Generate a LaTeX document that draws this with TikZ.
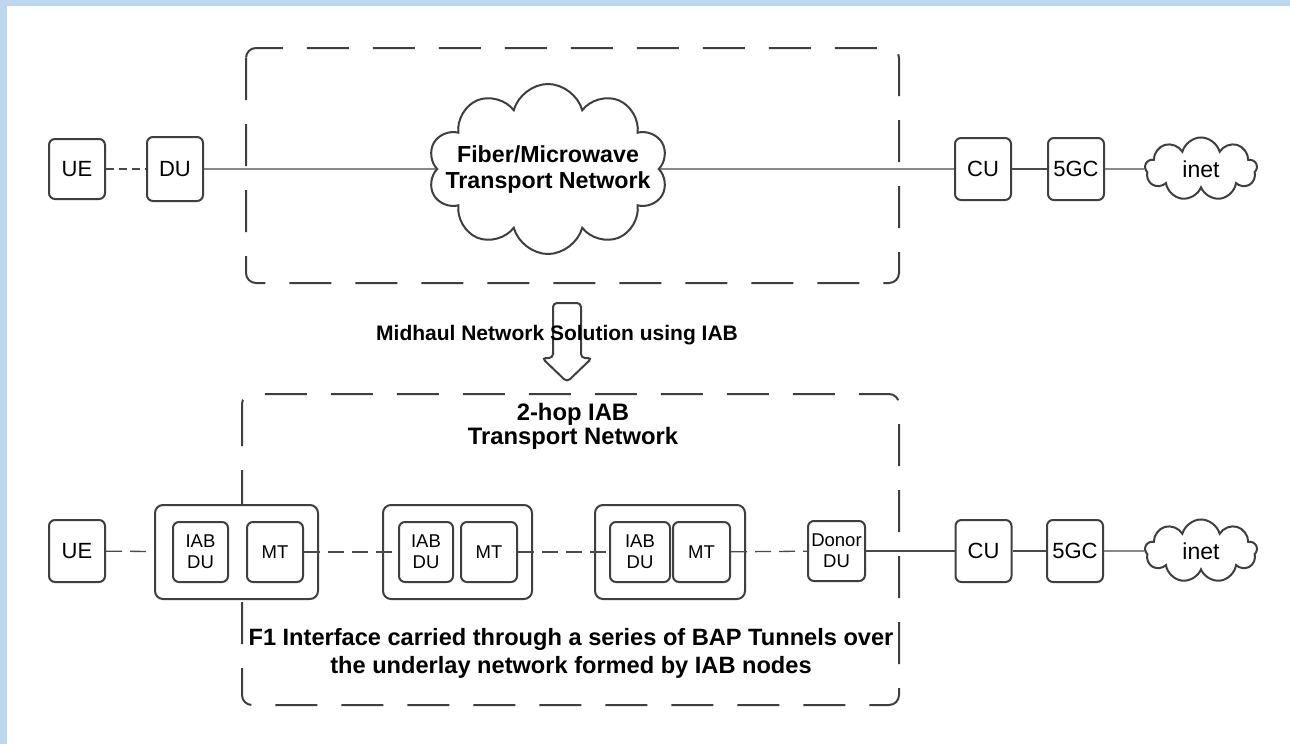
\documentclass[tikz,border=0pt]{standalone}
\usepackage{fontspec}
\setmainfont{Liberation Sans}
\usetikzlibrary{shapes.symbols}
\definecolor{edgegray}{HTML}{3F3F3F}
\definecolor{linkgray}{HTML}{4A4A4A}
\definecolor{frameblue}{HTML}{BDD7EE}

\begin{document}
\begin{tikzpicture}[x=0.5pt,y=-0.5pt,
	box/.style={draw=edgegray, line width=1pt, rounded corners=3pt, fill=white, inner sep=0pt,
		minimum width=28pt, minimum height=30pt, font=\fontsize{11}{13}\selectfont},
	inbox/.style={box, minimum width=28pt, font=\fontsize{9.25}{10.5}\selectfont, align=center},
	iabnode/.style={draw=edgegray, line width=1pt, rounded corners=4pt, fill=white, inner sep=0pt, minimum height=47pt},
	net/.style={cloud, draw=edgegray, line width=1pt, cloud puffs=9, fill=white, inner sep=0pt,
		font=\fontsize{11.5}{13}\selectfont},
	link/.style={draw=linkgray, line width=0.65pt},
	radio/.style={link, dash pattern=on 8pt off 4pt},
	zone/.style={draw=edgegray, line width=1pt, rounded corners=5pt, dash pattern=on 21pt off 12pt},
	title/.style={font=\bfseries\fontsize{10.5}{11}\selectfont, align=center}]
	
	% page and blue frame
	\fill[white] (0,0) rectangle (1290,744);
	\fill[frameblue] (0,0) rectangle (7,744);
	\fill[frameblue] (0,0) rectangle (1290,6);
	\useasboundingbox (0,0) rectangle (1290,744);
	
	% transport network areas
	\draw[zone] (246,48) rectangle (899,283);
	\draw[zone] (242,394) rectangle (899,705);
	
	% fiber / microwave midhaul
	\node[box] (ueA) at (77,169) {UE};
	\node[box, minimum height=32pt] (duA) at (175,169) {DU};
	\node[net, cloud puffs=10, minimum width=120pt, minimum height=85pt,
		label={[title, font=\bfseries\fontsize{11.6}{13}\selectfont]center:Fiber/Microwave\\Transport Network}] (fiber) at (548,169) {};
	\node[box, minimum height=31pt] (cuA) at (983,169) {CU};
	\node[box, minimum height=31pt] (gcA) at (1076,169) {5GC};
	\node[net, minimum width=56pt, minimum height=29pt] (inetA) at (1201,169) {inet};
	
	% solution arrow
	\draw[edgegray, line width=1pt, rounded corners=2pt, fill=white]
		(553,303) -- (581,303) -- (581,358) -- (592,358) -- (567,382) -- (542,358) -- (553,358) -- cycle;
	\node[title] (midhaul) at (557,335) {Midhaul Network Solution using IAB};
	\node[title, font=\bfseries\fontsize{11.9}{11}\selectfont] (hop) at (573,426) {2-hop IAB\\Transport Network};
	
	% IAB midhaul
	\node[box, minimum height=31pt] (ueB) at (77,551) {UE};
	\node[iabnode, minimum width=81.5pt] (iab1) at (236.5,552) {};
	\node[iabnode, minimum width=74.5pt] (iab2) at (457.5,552) {};
	\node[iabnode, minimum width=75pt] (iab3) at (670,552) {};
	\node[inbox, minimum width=27.5pt] (du1) at (200.5,552) {IAB\\DU};
	\node[inbox] (mt1) at (275,552) {MT};
	\node[inbox, minimum width=27pt] (du2) at (426,552) {IAB\\DU};
	\node[inbox] (mt2) at (489,552) {MT};
	\node[inbox, minimum width=30pt] (du3) at (640,552) {IAB\\DU};
	\node[inbox, minimum width=28.5pt] (mt3) at (701.5,552) {MT};
	\node[inbox, minimum width=28.5pt] (donor) at (836.5,551) {Donor\\DU};
	\node[box, minimum height=31pt] (cuB) at (983.5,551) {CU};
	\node[box, minimum height=31pt] (gcB) at (1075,551) {5GC};
	\node[net, minimum width=56pt, minimum height=30pt] (inetB) at (1201,551) {inet};
	
	\node[title, font=\bfseries\fontsize{11.8}{14}\selectfont] (f1) at (571,653)
		{F1 Interface carried through a series of BAP Tunnels over\\the underlay network formed by IAB nodes};
	
	\def\wired {duA/fiber, fiber/cuA, cuA/gcA, gcA/inetA, donor/cuB, cuB/gcB, gcB/inetB}  % wired links
	\foreach \u/\v in \wired
	{	\draw[link] (\u) -- (\v);
	}
	\draw[link, dash pattern=on 4pt off 2.5pt] (ueA) -- (duA);
	\def\hops {ueB/iab1, mt1/du2, mt2/du3, mt3/donor}  % radio hops
	\foreach \u/\v in \hops
	{	\draw[radio] (\u) -- (\v);
	}
	
\end{tikzpicture}
\end{document}
